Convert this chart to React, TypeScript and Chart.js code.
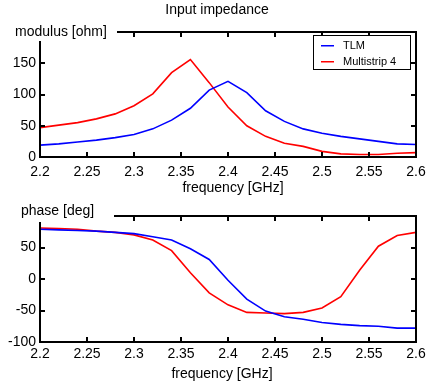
import React, { useEffect, useRef } from "react";
import { Chart, registerables } from "chart.js";
Chart.register(...registerables);

const TITLE = "Input impedance";
const SERIES_LABELS = ["TLM", "Multistrip 4"];
const SERIES_COLORS = ["#0000ff", "#ff0000"];
const X_LABEL = "frequency [GHz]";
const MOD_LABEL = "modulus [ohm]";
const PHASE_LABEL = "phase [deg]";

const FREQ = [2.2, 2.22, 2.24, 2.26, 2.28, 2.3, 2.32, 2.34, 2.36, 2.38, 2.4, 2.42, 2.44, 2.46, 2.48, 2.5, 2.52, 2.54, 2.56, 2.58, 2.6];
const TLM_MOD = [19, 21, 24, 27, 31, 36, 45, 59, 78, 107, 121, 103, 74, 57, 45, 38, 33, 29, 25, 21, 20];
const MS4_MOD = [47, 51, 55, 61, 69, 82, 101, 135, 156, 119, 80, 50, 33, 22, 17, 9, 5, 4, 4, 6, 7];
const TLM_PHASE = [79, 78, 77, 76, 74, 72, 67, 62, 48, 31, -2, -32, -51, -60, -64, -69, -72, -74, -75, -78, -78];
const MS4_PHASE = [81, 80, 79, 76, 74, 70, 62, 45, 10, -22, -41, -53, -54, -55, -53, -46, -28, 14, 52, 69, 74];

const X_TICKS = [2.2, 2.25, 2.3, 2.35, 2.4, 2.45, 2.5, 2.55, 2.6];
const MOD_TICKS = [0, 50, 100, 150, 200];
const PHASE_TICKS = [-100, -50, 0, 50, 100];

const FONT = "'Liberation Sans', Arial, sans-serif";

type Cfg = {
  height: number;
  top: number;
  xHeight: number;
  xPad: number;
  yMin: number;
  yMax: number;
  yTicks: number[];
  series: number[][];
  yLabel: string;
  yLabelX: number;
  yLabelY: number;
  yLabelCover: [number, number, number, number];
  xLabelX: number;
  xLabelY: number;
  title?: string;
  legend?: boolean;
};

const overlayPlugin = {
  id: "overlay",
  afterDraw(chart: any, _args: any, opts: any) {
    const cfg: Cfg = opts.cfg;
    const ctx = chart.ctx;
    const { left, right, top, bottom } = chart.chartArea;
    const xs = chart.scales.x;
    const ys = chart.scales.y;
    ctx.save();
    ctx.strokeStyle = "#000";
    ctx.lineWidth = 2;
    ctx.beginPath();
    ctx.rect(left, top, right - left, bottom - top);
    ctx.stroke();
    const tl = 5;
    ctx.beginPath();
    for (const t of xs.ticks) {
      const px = Math.round(xs.getPixelForValue(t.value));
      ctx.moveTo(px, bottom);
      ctx.lineTo(px, bottom - tl);
      ctx.moveTo(px, top);
      ctx.lineTo(px, top + tl);
    }
    for (const t of ys.ticks) {
      const py = Math.round(ys.getPixelForValue(t.value));
      ctx.moveTo(left, py);
      ctx.lineTo(left + tl, py);
      ctx.moveTo(right, py);
      ctx.lineTo(right - tl, py);
    }
    ctx.stroke();

    const [cx, cy, cw, ch] = cfg.yLabelCover;
    ctx.fillStyle = "#fff";
    ctx.fillRect(cx, cy, cw, ch);
    ctx.fillStyle = "#000";
    ctx.font = `14px ${FONT}`;
    ctx.textBaseline = "middle";
    ctx.textAlign = "left";
    ctx.fillText(cfg.yLabel, cfg.yLabelX, cfg.yLabelY);

    ctx.textAlign = "center";
    ctx.fillText(X_LABEL, cfg.xLabelX, cfg.xLabelY);

    if (cfg.title) {
      ctx.fillText(cfg.title, 217, 10);
    }

    if (cfg.legend) {
      const bx = 313, by = 35, bw = 97, bh = 34;
      ctx.fillStyle = "#fff";
      ctx.fillRect(bx, by, bw, bh);
      ctx.lineWidth = 1;
      ctx.strokeStyle = "#000";
      ctx.strokeRect(bx + 0.5, by + 0.5, bw, bh);
      ctx.font = `11px ${FONT}`;
      ctx.textAlign = "left";
      chart.data.datasets.forEach((ds: any, i: number) => {
        const ly = by + 10 + i * 16;
        ctx.fillStyle = SERIES_COLORS[i];
        ctx.fillRect(321, ly, 13, 1.5);
        ctx.fillStyle = "#000";
        ctx.fillText(ds.label, 343, ly + 1);
      });
    }
    ctx.restore();
  },
};

function makeChart(canvas: HTMLCanvasElement, cfg: Cfg) {
  return new Chart(canvas, {
    type: "line",
    data: {
      datasets: cfg.series.map((vals, i) => ({
        label: SERIES_LABELS[i],
        data: FREQ.map((f, j) => ({ x: f, y: vals[j] })),
        borderColor: SERIES_COLORS[i],
        backgroundColor: SERIES_COLORS[i],
        borderWidth: 1.6,
        pointRadius: 0,
        tension: 0,
        fill: false,
      })),
    },
    options: {
      responsive: false,
      animation: false,
      devicePixelRatio: 1,
      layout: { padding: { left: 0, right: 25, top: cfg.top, bottom: 0 } },
      plugins: {
        legend: { display: false },
        title: { display: false },
        tooltip: { enabled: false },
        overlay: { cfg },
      } as any,
      scales: {
        x: {
          type: "linear",
          min: 2.2,
          max: 2.6,
          afterBuildTicks: (s: any) => {
            s.ticks = X_TICKS.map((v) => ({ value: v }));
          },
          afterFit: (s: any) => {
            s.height = cfg.xHeight;
          },
          grid: { display: false, drawTicks: false },
          border: { display: false },
          ticks: {
            padding: cfg.xPad,
            color: "#000",
            font: { size: 14, family: FONT },
            maxRotation: 0,
            autoSkip: false,
            callback: (v: any) => String(Number(Number(v).toFixed(2))),
          },
        },
        y: {
          type: "linear",
          min: cfg.yMin,
          max: cfg.yMax,
          afterBuildTicks: (s: any) => {
            s.ticks = cfg.yTicks.map((v) => ({ value: v }));
          },
          afterFit: (s: any) => {
            s.width = 40;
          },
          grid: { display: false, drawTicks: false },
          border: { display: false },
          ticks: {
            padding: 4,
            color: "#000",
            font: { size: 14, family: FONT },
            autoSkip: false,
            callback: (v: any) => (Number(v) === cfg.yMax ? "" : String(v)),
          },
        },
      },
    },
    plugins: [overlayPlugin],
  } as any);
}

export default function App() {
  const topRef = useRef<HTMLCanvasElement>(null);
  const botRef = useRef<HTMLCanvasElement>(null);

  useEffect(() => {
    Chart.defaults.font.family = FONT;
    const c1 = makeChart(topRef.current!, {
      height: 195,
      top: 32,
      xHeight: 38,
      xPad: 7,
      yMin: 0,
      yMax: 200,
      yTicks: MOD_TICKS,
      series: [TLM_MOD, MS4_MOD],
      yLabel: MOD_LABEL,
      yLabelX: 15,
      yLabelY: 32,
      yLabelCover: [8, 22, 109, 19],
      xLabelX: 233,
      xLabelY: 188,
      title: TITLE,
      legend: true,
    });
    const c2 = makeChart(botRef.current!, {
      height: 188,
      top: 21,
      xHeight: 41,
      xPad: 4,
      yMin: -100,
      yMax: 100,
      yTicks: PHASE_TICKS,
      series: [TLM_PHASE, MS4_PHASE],
      yLabel: PHASE_LABEL,
      yLabelX: 21,
      yLabelY: 16,
      yLabelCover: [8, 5, 106, 22],
      xLabelX: 222,
      xLabelY: 179,
    });
    return () => {
      c1.destroy();
      c2.destroy();
    };
  }, []);

  return (
    <div style={{ position: "absolute", left: 0, top: 0, width: 441, height: 383, background: "#fff" }}>
      <canvas ref={topRef} width={441} height={195} style={{ position: "absolute", left: 0, top: 0, width: 441, height: 195 }} />
      <canvas ref={botRef} width={441} height={188} style={{ position: "absolute", left: 0, top: 195, width: 441, height: 188 }} />
    </div>
  );
}
